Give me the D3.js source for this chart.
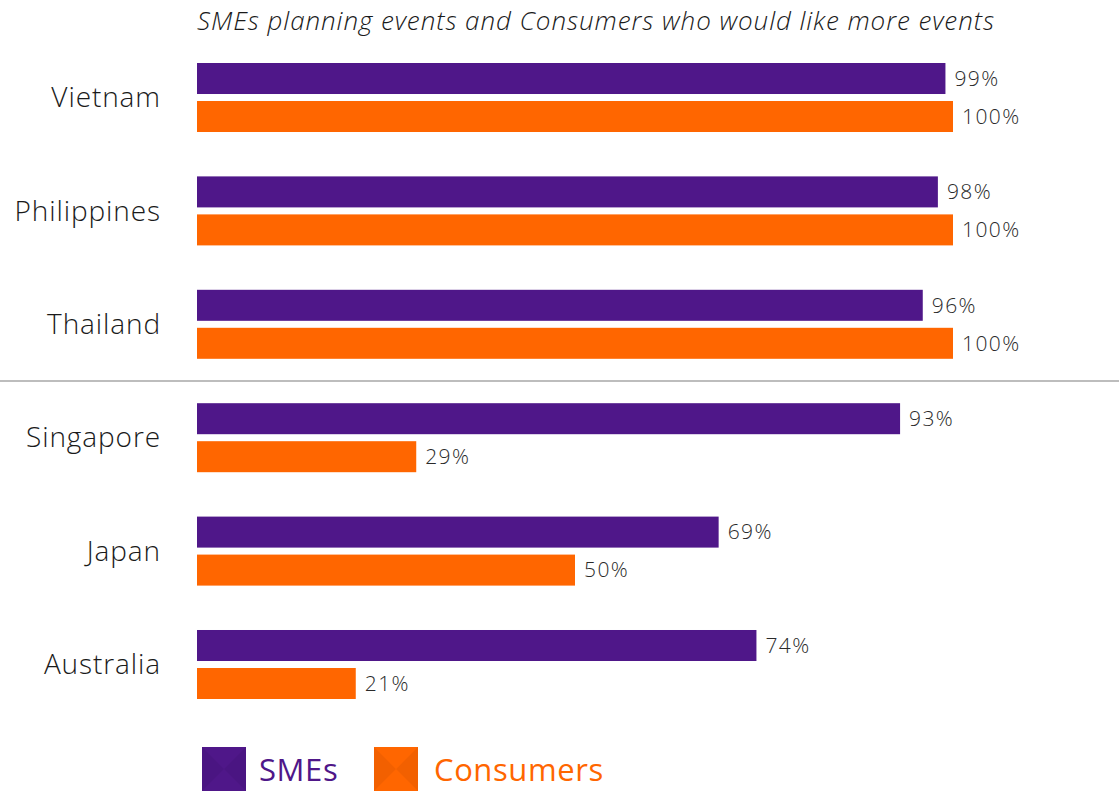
<!DOCTYPE html>
<html>
<head>
<meta charset="utf-8">
<script src="https://cdn.jsdelivr.net/npm/d3@7"></script>
<style>
  html, body { margin: 0; padding: 0; background: #fff; }
  svg { display: block; font-family: "Open Sans", "Noto Sans", sans-serif; }
</style>
</head>
<body>
<svg id="chart" width="1119" height="793"></svg>
<script>
// Chart data
const countries = ["Vietnam", "Philippines", "Thailand", "Singapore", "Japan", "Australia"];
const series = ["SMEs", "Consumers"];
const smeValues = [99, 98, 96, 93, 69, 74];
const consumerValues = [100, 100, 100, 29, 50, 21];
const colors = ["#4f1789", "#ff6600"];
const titleText = "SMEs planning events and Consumers who would like more events";

const svg = d3.select("#chart");

const x = d3.scaleLinear().domain([0, 100]).range([197, 953]);
const y = d3.scaleBand().domain(countries).range([63, 699]).paddingInner(0.3915).paddingOuter(0);
const ySub = d3.scaleBand().domain(series).range([0, y.bandwidth()]).paddingInner(0.184);
const color = d3.scaleOrdinal().domain(series).range(colors);

const rows = countries.map((c, i) => ({
  country: c,
  values: [
    { key: "SMEs", value: smeValues[i] },
    { key: "Consumers", value: consumerValues[i] }
  ]
}));

// Title
svg.append("text")
  .attr("x", 197).attr("y", 30)
  .attr("font-size", 26)
  .attr("font-style", "italic")
  .attr("font-weight", 300)
  .attr("fill", "#1a1a1a")
  .attr("textLength", 797)
  .attr("lengthAdjust", "spacing")
  .text(titleText);

// Separator between the two country groups
const sepY = (y("Thailand") + y.bandwidth() + y("Singapore")) / 2;
svg.append("line")
  .attr("x1", 0).attr("x2", 1119)
  .attr("y1", sepY).attr("y2", sepY)
  .attr("stroke", "#bdbdbd").attr("stroke-width", 2);

const groups = svg.selectAll("g.country")
  .data(rows)
  .join("g")
  .attr("class", "country")
  .attr("transform", d => `translate(0,${y(d.country)})`);

// Country labels
groups.append("text")
  .attr("x", 161)
  .attr("y", y.bandwidth() / 2)
  .attr("dy", "0.35em")
  .attr("text-anchor", "end")
  .attr("font-size", 28)
  .attr("font-weight", 300)
  .attr("letter-spacing", 0.9)
  .attr("fill", "#1a1a1a")
  .text(d => d.country);

// Bars
groups.selectAll("rect")
  .data(d => d.values)
  .join("rect")
  .attr("x", x(0))
  .attr("y", d => ySub(d.key))
  .attr("width", d => x(d.value) - x(0))
  .attr("height", ySub.bandwidth())
  .attr("fill", d => color(d.key));

// Value labels
groups.selectAll("text.val")
  .data(d => d.values)
  .join("text")
  .attr("class", "val")
  .attr("x", d => x(d.value) + 9)
  .attr("y", d => ySub(d.key) + ySub.bandwidth() / 2)
  .attr("dy", "0.35em")
  .attr("font-size", 21)
  .attr("font-weight", 300)
  .attr("letter-spacing", 1.4)
  .attr("fill", "#2a2a2a")
  .text(d => d.value + "%");

// Legend
const legendPos = [202, 374];
const legend = svg.selectAll("g.legend")
  .data(series)
  .join("g")
  .attr("class", "legend")
  .attr("transform", (d, i) => `translate(${legendPos[i]},747)`);

legend.append("rect")
  .attr("width", 44).attr("height", 44)
  .attr("fill", d => color(d));

// faint shading on the left and right quarters of each swatch
legend.append("path")
  .attr("d", "M0,0L22,22L0,44Z M44,0L22,22L44,44Z")
  .attr("fill", "#000")
  .attr("opacity", 0.05);

legend.append("text")
  .attr("x", (d, i) => i === 0 ? 57 : 60)
  .attr("y", 23)
  .attr("dy", "0.35em")
  .attr("font-size", 31)
  .attr("font-weight", 400)
  .attr("letter-spacing", 0.6)
  .attr("fill", d => color(d))
  .text(d => d);
</script>
</body>
</html>
